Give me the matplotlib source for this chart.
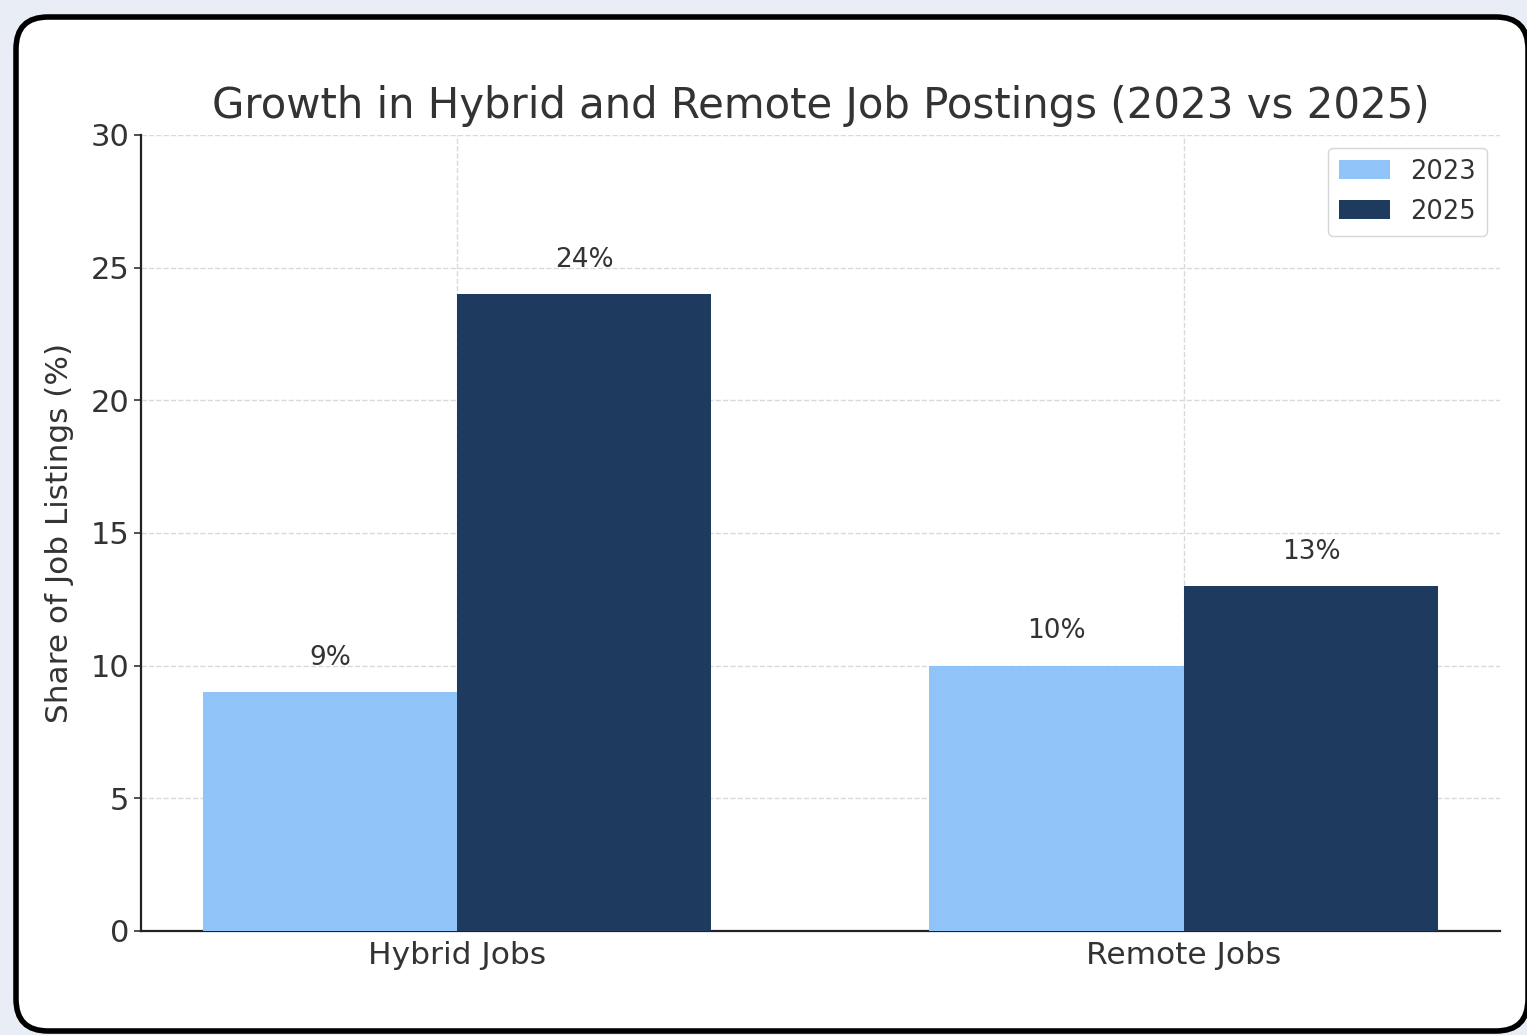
import numpy as np
import matplotlib.pyplot as plt
from matplotlib.patches import FancyBboxPatch

categories = ["Hybrid Jobs", "Remote Jobs"]
share_2023 = [9, 10]
share_2025 = [24, 13]
years = ["2023", "2025"]

c_light = "#90c3f8"
c_dark = "#1e3a5f"
txt = "#333333"

fig = plt.figure(figsize=(15.27, 10.35), dpi=100)
fig.patch.set_facecolor("#e9eef6")

# card with rounded black border, kept behind the axes
card = FancyBboxPatch((0.32, 0.20), 14.80, 9.82,
                      boxstyle="round,pad=0.16,rounding_size=0.32",
                      transform=fig.dpi_scale_trans, facecolor="white",
                      edgecolor="black", linewidth=4.0, zorder=-10)
fig.patches.append(card)

ax = fig.add_axes([0.0923, 0.1005, 0.8900, 0.7691])
ax.set_facecolor("none")
ax.set_zorder(5)

x = np.arange(len(categories))
w = 0.35
b1 = ax.bar(x - w / 2, share_2023, w, color=c_light, label=years[0], zorder=3)
b2 = ax.bar(x + w / 2, share_2025, w, color=c_dark, label=years[1], zorder=3)

for bars, vals in [(b1, share_2023), (b2, share_2025)]:
    for r, v in zip(bars, vals):
        ax.text(r.get_x() + r.get_width() / 2, v + 0.8, f"{v}%",
                ha="center", va="bottom", fontsize=19, color=txt)

ax.set_ylim(0, 30)
ax.set_yticks(range(0, 31, 5))
ax.set_xticks(x)
ax.set_xticklabels(categories)
ax.tick_params(axis="y", labelsize=22, colors=txt, length=5, width=1.2)
ax.tick_params(axis="x", labelsize=22.5, colors=txt, length=0, pad=7)
ax.set_ylabel("Share of Job Listings (%)", fontsize=22.4, color=txt, labelpad=12)
ax.set_title("Growth in Hybrid and Remote Job Postings (2023 vs 2025)",
             fontsize=30.2, color=txt, pad=12)

ax.grid(True, linestyle="--", color="#d9d9d9", linewidth=1.0, zorder=0)
ax.set_axisbelow(True)
for s in ["top", "right"]:
    ax.spines[s].set_visible(False)
for s in ["left", "bottom"]:
    ax.spines[s].set_color("#222222")
    ax.spines[s].set_linewidth(1.6)

leg = ax.legend(loc="upper right", fontsize=18.5, frameon=True,
                handlelength=2.0, handleheight=0.75, borderpad=0.42,
                labelspacing=0.55, borderaxespad=0.5,
                bbox_to_anchor=(1.0, 1.0))
for t in leg.get_texts():
    t.set_color(txt)
leg.get_frame().set_edgecolor("#cccccc")

fig.savefig("out.png", dpi=100, facecolor=fig.get_facecolor())
